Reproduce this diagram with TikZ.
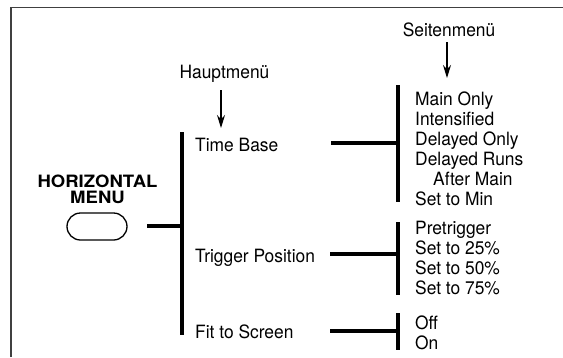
\documentclass[tikz,border=0pt]{standalone}
\usepackage{fontspec}
\setmainfont{TeX Gyre Heros}
\newfontfamily\widefont[FakeStretch=1.09]{TeX Gyre Heros}
\newfontfamily\narrowfont[FakeStretch=0.95]{TeX Gyre Heros}
\usetikzlibrary{arrows.meta}
\tikzset{
  lbl/.style={anchor=base west, inner sep=0pt, font=\narrowfont\fontsize{18.3}{20}\selectfont},
  head/.style={anchor=base, inner sep=0pt, font=\narrowfont\fontsize{18.3}{20}\selectfont},
  bold/.style={anchor=base, inner sep=0pt, font=\widefont\bfseries\fontsize{17}{16}\selectfont},
  thick line/.style={line width=3.2pt},
  pointer/.style={line width=1.3pt, -{Stealth[length=13pt,width=8pt]}},
  frame/.style={line width=1.2pt, draw=black!75},
}
\begin{document}
\begin{tikzpicture}[x=1pt,y=-1pt]
\useasboundingbox (0,0) rectangle (563,357);
% frame
\draw[frame] (11,357) -- (11,7.5) -- (563,7.5);
% button
\node[bold] (hz) at (97.5,187) {HORIZONTAL};
\node[bold] (mn) at (97.5,203) {MENU};
\node[draw, line width=1.3pt, rounded corners=13.5pt, minimum width=60pt, minimum height=27pt, inner sep=0pt] (btn) at (97,226.5) {};
% main bar
\coordinate (mtop) at (182,132);
\coordinate (mbot) at (182,335);
\coordinate (mjoin) at (182,226);
\coordinate (bstart) at (147,226);
\draw[thick line] (mtop) -- (mbot);
\draw[thick line] (bstart) -- (mjoin);
% headings
\node[head] (haupt) at (224.5,78) {Hauptmenü};
\coordinate (hauptend) at (221,128);
\draw[pointer] (221,90) -- (hauptend);
\node[head] (seiten) at (449,36) {Seitenmenü};
\coordinate (seitenend) at (447,78);
\draw[pointer] (447,42) -- (seitenend);
% main items
\node[lbl] (tb) at (195,151) {Time Base};
\node[lbl] (tp) at (195,262) {Trigger Position};
\node[lbl] (fs) at (195,338) {Fit to Screen};
% Time Base submenu
\coordinate (tbl) at (331,143);
\coordinate (tbr) at (398,143);
\draw[thick line] (tbl) -- (tbr);
\draw[thick line] (398,85) -- (398,202);
\node[lbl] (s1) at (415,105) {Main Only};
\node[lbl] (s2) at (415,125) {Intensified};
\node[lbl] (s3) at (415,145) {Delayed Only};
\node[lbl] (s4) at (415,165) {Delayed Runs};
\node[lbl] (s5) at (433,185) {After Main};
\node[lbl] (s6) at (415,205) {Set to Min};
% Trigger Position submenu
\coordinate (tpl) at (330,254);
\coordinate (tpr) at (398,254);
\draw[thick line] (tpl) -- (tpr);
\draw[thick line] (398,222) -- (398,295);
\node[lbl] (p1) at (415,234) {Pretrigger};
\node[lbl] (p2) at (415,254) {Set to 25\%};
\node[lbl] (p3) at (415,274) {Set to 50\%};
\node[lbl] (p4) at (415,294) {Set to 75\%};
% Fit to Screen submenu
\coordinate (fsl) at (330,331);
\coordinate (fsr) at (398,331);
\draw[thick line] (fsl) -- (fsr);
\draw[thick line] (398,313) -- (398,350);
\node[lbl] (f1) at (415,329) {Off};
\node[lbl] (f2) at (415,349) {On};
\end{tikzpicture}
\end{document}
